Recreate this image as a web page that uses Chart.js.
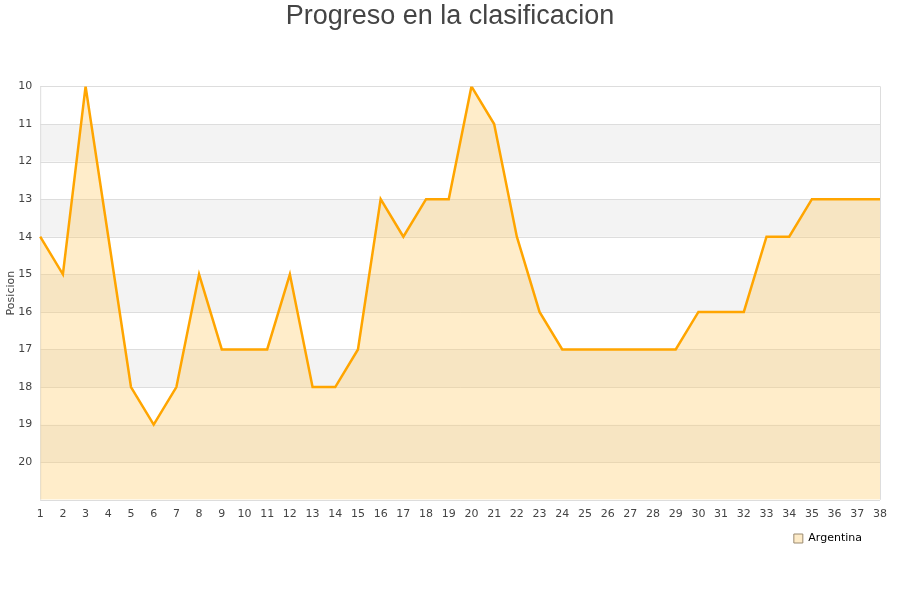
<!DOCTYPE html>
<html><head><meta charset="utf-8">
<script src="https://cdn.jsdelivr.net/npm/chart.js@4.4.0/dist/chart.umd.min.js"></script>
<style>html,body{margin:0;padding:0;background:#fff}#wrap{width:900px;height:600px}</style>
</head><body><div id="wrap"><canvas id="c" width="900" height="600"></canvas></div>
<script>
const jornadas = [1,2,3,4,5,6,7,8,9,10,11,12,13,14,15,16,17,18,19,20,21,22,23,24,25,26,27,28,29,30,31,32,33,34,35,36,37,38];
const argentina = [14,15,10,14,18,19,18,15,17,17,17,15,18,18,17,13,14,13,13,10,11,14,16,17,17,17,17,17,17,16,16,16,14,14,13,13,13,13];
const bandStarts = [11,13,15,17,19];

const bands = {
  id:'bands',
  afterLayout(chart){
    if (chart.legend){ chart.legend.top -= 4; chart.legend.bottom -= 4; chart.legend.left -= 2; chart.legend.right -= 2; }
    if (chart.titleBlock){ chart.titleBlock.left = 0; chart.titleBlock.right = chart.width; chart.titleBlock.width = chart.width; }
  },
  beforeDatasetsDraw(chart){
    const {ctx, chartArea:a, scales:{y}} = chart;
    ctx.save();
    ctx.fillStyle = '#f3f3f3';
    bandStarts.forEach(s=>{
      const y1 = y.getPixelForValue(s), y2 = y.getPixelForValue(s+1);
      ctx.fillRect(a.left, Math.min(y1,y2), a.right-a.left, Math.abs(y2-y1));
    });
    ctx.strokeStyle = '#dddddd'; ctx.lineWidth = 1;
    ctx.beginPath();
    for (let v=10; v<=21; v++){ const p=Math.round(y.getPixelForValue(v))+0.5; ctx.moveTo(a.left,p); ctx.lineTo(a.right,p); }
    ctx.stroke();
    ctx.beginPath();
    ctx.moveTo(a.right+0.5,a.top); ctx.lineTo(a.right+0.5,a.bottom);
    ctx.moveTo(a.left+0.5,a.top); ctx.lineTo(a.left+0.5,a.bottom);
    ctx.stroke();
    ctx.restore();
  }
};

new Chart(document.getElementById('c'), {
  type:'line',
  data:{ labels: jornadas, datasets:[{
    label:'Argentina', data: argentina,
    borderColor:'#ffa500', borderWidth:2.5, pointRadius:0, tension:0,
    fill:{value:21}, backgroundColor:'rgba(255,204,102,0.35)'
  }]},
  options:{
    responsive:false, animation:false,
    layout:{padding:{left:5,right:20,top:0,bottom:42}},
    plugins:{
      title:{display:true, text:'Progreso en la clasificacion', color:'#444', font:{family:'Liberation Sans', size:27, weight:'normal'}, padding:{top:0,bottom:54}},
      legend:{position:'bottom', align:'end', labels:{boxWidth:9, boxHeight:9, padding:16, color:'#000', font:{family:'DejaVu Sans', size:11},
        generateLabels(chart){ return [{text:'Argentina', fillStyle:'#fdebc8', strokeStyle:'#9a8a70', lineWidth:1, datasetIndex:0}]; }}},
      tooltip:{enabled:false}
    },
    scales:{
      x:{ offset:false, grid:{display:false}, border:{display:false},
          ticks:{color:'#444', font:{family:'DejaVu Sans', size:11}, maxRotation:0, autoSkip:false, padding:0}},
      y:{ reverse:true, min:10, max:21, grid:{display:false}, border:{display:false},
          ticks:{stepSize:1, color:'#444', font:{family:'DejaVu Sans', size:11}, padding:0,
            callback:(v)=> v===21 ? '' : v},
          title:{display:true, text:'Posicion', color:'#444', font:{family:'DejaVu Sans', size:11}, padding:0}}
    }
  },
  plugins:[bands]
});
</script></body></html>
